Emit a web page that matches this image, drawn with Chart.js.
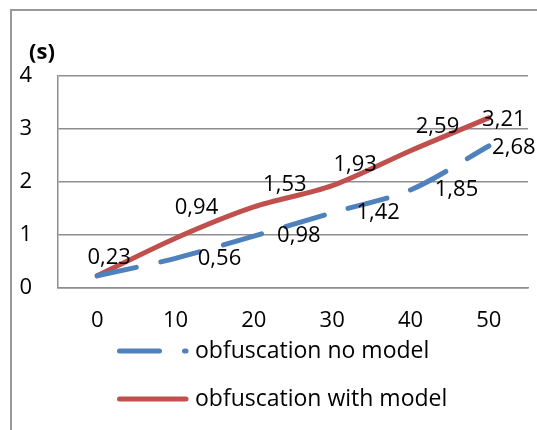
<!DOCTYPE html>
<html><head><meta charset="utf-8">
<script src="https://cdn.jsdelivr.net/npm/chart.js@4"></script>
<style>
html,body{margin:0;padding:0;background:#fff;overflow:hidden}
#wrap{position:relative;width:537px;height:430px;overflow:hidden}
#frame{position:absolute;left:10px;top:9px;width:700px;height:700px;border-left:2px solid #999;border-top:2px solid #999;}
canvas{position:absolute;left:0;top:0}
</style></head>
<body><div id="wrap"><div id="frame"></div><canvas id="c" width="537" height="430"></canvas></div>
<script>
// ---- data ----
const categories = ['0', '10', '20', '30', '40', '50'];
const noModel = [0.23, 0.56, 0.98, 1.42, 1.85, 2.68];
const withModel = [0.23, 0.94, 1.53, 1.93, 2.59, 3.21];
const yTicks = [0, 1, 2, 3, 4];
const seriesNames = ['obfuscation no model', 'obfuscation with model'];
const yUnit = '(s)';

// ---- styles ----
const FONT = '"Open Sans", "Liberation Sans", sans-serif';
const FS = 22;
const LFS = 23;
const BLUE = '#4F81BD';
const RED = '#C0504D';
const GRID = '#8e8e8e';
// label centre offsets (px) from each point; null = not shown
const noModelLabelOffsets = [null, [44, 0], [45, 0], [46, 0], [46, 0], [25, 2]];
const withModelLabelOffsets = [[12, -18], [21, -30], [31, -22], [23, -21], [27, -24], [15, 2]];

const fmt = v => v.toFixed(2).replace('.', ',');

const labelPlugin = {
  id: 'valueLabels',
  afterDatasetsDraw(chart) {
    const ctx = chart.ctx;
    ctx.save();
    ctx.font = FS + 'px ' + FONT;
    ctx.fillStyle = '#000';
    ctx.textAlign = 'center';
    ctx.textBaseline = 'middle';
    chart.data.datasets.forEach((ds, di) => {
      const meta = chart.getDatasetMeta(di);
      const offs = ds.labelOffsets;
      meta.data.forEach((pt, i) => {
        const o = offs[i];
        if (!o) return;
        ctx.fillText(fmt(ds.data[i]), pt.x + o[0], pt.y + o[1]);
      });
    });
    ctx.restore();
  }
};

const extrasPlugin = {
  id: 'extras',
  afterDraw(chart) {
    const ctx = chart.ctx;
    const a = chart.chartArea;
    ctx.save();
    // unit title
    ctx.font = 'bold ' + FS + 'px ' + FONT;
    ctx.fillStyle = '#000';
    ctx.textAlign = 'center';
    ctx.textBaseline = 'middle';
    ctx.fillText(yUnit, a.left - 16, a.top - 23);
    // legend
    const x0 = a.left + 61.5, x1 = a.left + 128;
    const rows = [a.bottom + 63, a.bottom + 111];
    chart.data.datasets.forEach((ds, i) => {
      const y = rows[i];
      ctx.beginPath();
      ctx.strokeStyle = ds.borderColor;
      ctx.lineWidth = ds.borderWidth;
      ctx.lineCap = 'round';
      ctx.setLineDash(ds.borderDash || []);
      ctx.moveTo(x0, y);
      ctx.lineTo(x1, y);
      ctx.stroke();
      ctx.setLineDash([]);
      ctx.font = LFS + 'px ' + FONT;
      ctx.fillStyle = '#000';
      ctx.textAlign = 'left';
      ctx.textBaseline = 'middle';
      ctx.fillText(ds.label, a.left + 137, y);
    });
    ctx.restore();
  }
};

new Chart(document.getElementById('c'), {
  type: 'line',
  data: {
    labels: categories,
    datasets: [
      {
        label: seriesNames[0], data: noModel, borderColor: BLUE, borderWidth: 5,
        borderDash: [40, 25], borderCapStyle: 'round', tension: 0.3,
        pointRadius: 0, fill: false, labelOffsets: noModelLabelOffsets
      },
      {
        label: seriesNames[1], data: withModel, borderColor: RED, borderWidth: 5,
        borderCapStyle: 'round', tension: 0.3,
        pointRadius: 0, fill: false, labelOffsets: withModelLabelOffsets
      }
    ]
  },
  options: {
    responsive: false, animation: false, devicePixelRatio: 1,
    layout: { padding: { left: 0, top: 76, right: 9, bottom: 92 } },
    plugins: { legend: { display: false }, tooltip: { enabled: false }, title: { display: false } },
    scales: {
      x: {
        type: 'category', offset: true,
        grid: { display: false, drawTicks: false },
        border: { display: true, color: GRID, width: 1.5 },
        ticks: { color: '#000', font: { family: FONT, size: FS }, padding: 20, maxRotation: 0 },
        afterFit(s) { s.height = 50; }
      },
      y: {
        min: 0, max: 4,
        afterBuildTicks(s) { s.ticks = yTicks.map(v => ({ value: v })); },
        grid: { color: GRID, lineWidth: 1.5, drawTicks: false },
        border: { display: true, color: GRID, width: 1.5 },
        ticks: { color: '#000', font: { family: FONT, size: FS }, padding: 26 },
        afterFit(s) { s.width = 58; }
      }
    }
  },
  plugins: [labelPlugin, extrasPlugin]
});
</script>
</body></html>
